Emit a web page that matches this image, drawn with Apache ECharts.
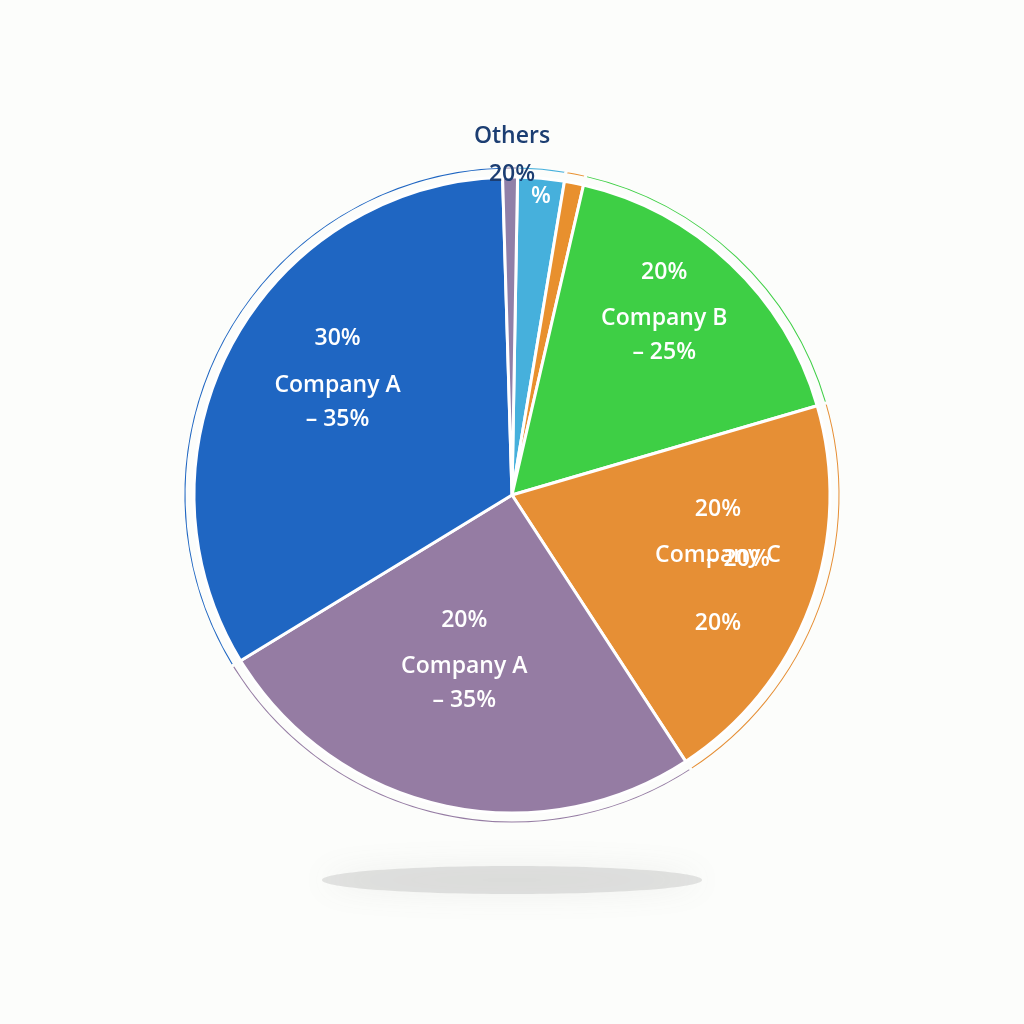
<!DOCTYPE html>
<html><head><meta charset="utf-8">
<script src="https://cdn.jsdelivr.net/npm/echarts@6/dist/echarts.min.js"></script>
<style>html,body{margin:0;background:#fcfdfb}#c{width:1024px;height:1024px}</style>
</head><body><div id="c"></div>
<script>
const names = ['Others (light blue)','Others (orange)','Company B','Company C','Company A (purple)','Company A (blue)','Others (purple)'];
const values = [8.5, 3.5, 60.7, 73.2, 91.7, 119.7, 2.7];
const colors = ['#46b0dc','#e8902e','#3ecf45','#e68f35','#957ca3','#1f66c2','#9080a8'];
const labels = ['{n|%}','','{p|20%}\n{n|Company B}\n{n|– 25%}','{p|20%}\n{n|Company C}\n{q|– 20%}\n{n|20%}','{p|20%}\n{n|Company A}\n{n|– 35%}','{p|30%}\n{n|Company A}\n{n|– 35%}',''];
const offsets = [[14,-137],[0,0],[41,-62],[54,18],[-12,10],[-32,-36],[0,0]];
const rich = {
  p:{color:'#fff',fontSize:23,fontWeight:600,fontFamily:'Open Sans',padding:[0,0,18,0]},
  n:{color:'#fff',fontSize:23,fontWeight:600,fontFamily:'Open Sans',lineHeight:34},
  q:{color:'#fff',fontSize:23,fontWeight:600,fontFamily:'Open Sans',lineHeight:34,padding:[0,0,60,40]}
};
const chart = echarts.init(document.getElementById('c'));
chart.setOption({
  backgroundColor:'#fcfdfb',
  title:{text:'Others\n20%',left:'center',top:112,textStyle:{color:'#1c3e72',fontSize:23,fontWeight:600,fontFamily:'Open Sans',lineHeight:38}},
  graphic:[{type:'ellipse',shape:{cx:512,cy:880,rx:190,ry:14},style:{fill:'rgba(150,150,150,0.25)',shadowBlur:30,shadowColor:'rgba(120,120,120,0.4)'},z:-1}],
  series:[
    {type:'pie',center:[512,495],radius:[0,318],startAngle:89,clockwise:true,silent:true,
     itemStyle:{borderColor:'#fff',borderWidth:3},
     data:values.map((v,i)=>({value:v,name:names[i],itemStyle:{color:colors[i]},
       label:{show:labels[i]!=='',position:'inside',formatter:labels[i],rich:rich,offset:offsets[i]}})),
     labelLine:{show:false}},
    {type:'pie',center:[512,495],radius:[325,329],startAngle:89,silent:true,label:{show:false},
     itemStyle:{borderColor:'#fcfdfb',borderWidth:3},
     data:values.map((v,i)=>({value:v,name:names[i]+' ring',itemStyle:{color:colors[i]}}))}
  ]
});
</script></body></html>
